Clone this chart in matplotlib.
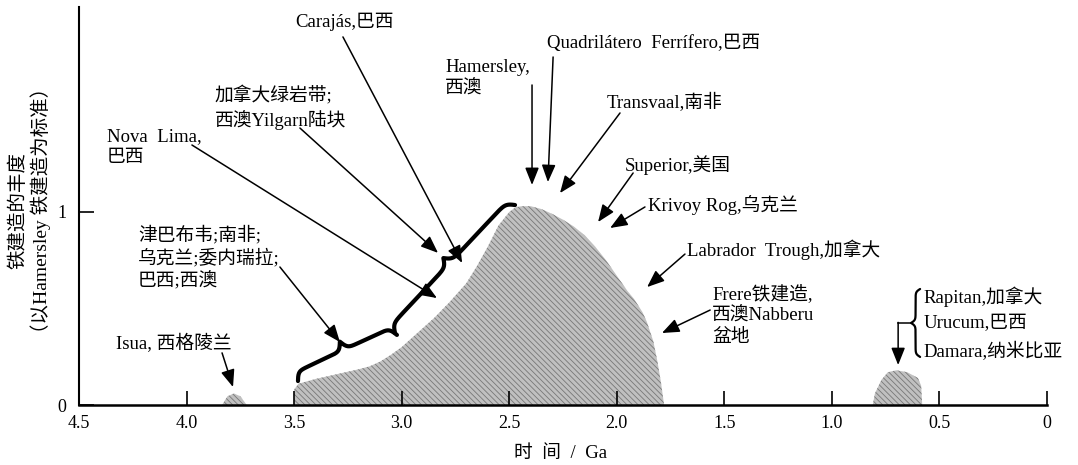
import numpy as np
import matplotlib
matplotlib.use('Agg')
import matplotlib.pyplot as plt

plt.rcParams['font.family'] = ['Liberation Serif', 'Noto Sans CJK SC']

# abundance of iron formations (relative to Hamersley = 1)
main_age = [3.50, 3.50, 3.48, 3.40, 3.30, 3.20, 3.15, 3.10, 3.05, 3.00, 2.92, 2.85, 2.78, 2.70,
            2.65, 2.60, 2.55, 2.50, 2.47, 2.44, 2.40, 2.35, 2.30, 2.25, 2.20, 2.15, 2.10, 2.05,
            2.00, 1.95, 1.92, 1.88, 1.86, 1.83, 1.81, 1.795, 1.785, 1.78]
main_abund = [0.0, 0.08, 0.11, 0.135, 0.16, 0.185, 0.20, 0.225, 0.26, 0.30, 0.38, 0.45, 0.53,
              0.63, 0.72, 0.82, 0.93, 1.00, 1.025, 1.03, 1.03, 1.015, 0.99, 0.96, 0.925, 0.88,
              0.82, 0.75, 0.67, 0.59, 0.55, 0.48, 0.43, 0.33, 0.22, 0.12, 0.04, 0.0]
isua_age = [3.835, 3.81, 3.78, 3.75, 3.72]
isua_abund = [0.0, 0.045, 0.06, 0.045, 0.0]
neo_age = [0.81, 0.80, 0.77, 0.74, 0.70, 0.65, 0.60, 0.585, 0.58]
neo_abund = [0.0, 0.06, 0.13, 0.17, 0.18, 0.17, 0.14, 0.10, 0.0]

xticks = [4.5, 4.0, 3.5, 3.0, 2.5, 2.0, 1.5, 1.0, 0.5, 0]
xticklabels = ['4.5', '4.0', '3.5', '3.0', '2.5', '2.0', '1.5', '1.0', '0.5', '0']

# label text, text anchor (age, abundance), arrow start, arrow tip
labels = [
    ('Isua, 西格陵兰', (4.33, 0.32), (3.835, 0.27), (3.784, 0.093)),
    ('津巴布韦;南非;\n乌克兰;委内瑞拉;\n巴西;西澳', (4.226, 0.762), (3.566, 0.715), (3.287, 0.326)),
    ('Nova  Lima,\n巴西', (4.37, 1.337), (3.975, 1.347), (2.836, 0.554)),
    ('加拿大绿岩带;\n西澳Yilgarn陆块', (3.868, 1.539), (3.473, 1.435), (2.831, 0.788)),
    ('Carajás,巴西', (3.496, 1.984), (3.273, 1.907), (2.719, 0.736)),
    ('Hamersley,\n西澳', (2.798, 1.694), (2.394, 1.658), (2.394, 1.140)),
    ('Quadrilátero  Ferrífero,巴西', (2.324, 1.876), (2.296, 1.803), (2.320, 1.155)),
    ('Transvaal,南非', (2.045, 1.565), (1.985, 1.513), (2.264, 1.098)),
    ('Superior,美国', (1.962, 1.244), (1.924, 1.202), (2.087, 0.948)),
    ('Krivoy Rog,乌克兰', (1.855, 1.036), (1.869, 1.026), (2.031, 0.917)),
    ('Labrador  Trough,加拿大', (1.673, 0.803), (1.683, 0.782), (1.859, 0.611)),
    ('Frere铁建造,\n西澳Nabberu\n盆地', (1.557, 0.466), (1.566, 0.492), (1.790, 0.373)),
]
neo_names = ['Rapitan,加拿大', 'Urucum,巴西', 'Damara,纳米比亚']
neo_name_y = [0.560, 0.425, 0.275]

fig = plt.figure(figsize=(10.78, 4.65), dpi=100)
ax = fig.add_axes([79 / 1078, 60 / 465, 968 / 1078, 398 / 465])
ax.set_xlim(4.5, 0)
ax.set_ylim(0, 2.062)

plt.rcParams['hatch.linewidth'] = 0.6
fill_kw = dict(facecolor='#c0c0c0', edgecolor='#777777', hatch='\\\\\\\\\\\\', linewidth=0)
for a, b in [(main_age, main_abund), (isua_age, isua_abund), (neo_age, neo_abund)]:
    ax.fill_between(a, 0, b, **fill_kw)

for s in ['top', 'right']:
    ax.spines[s].set_visible(False)
ax.spines['left'].set_linewidth(1.5)
ax.spines['bottom'].set_linewidth(1.8)
ax.set_xticks(xticks)
ax.set_xticklabels(xticklabels)
ax.set_yticks([0, 1])
ax.set_yticklabels(['0', '1'])
ax.tick_params(axis='x', direction='in', length=10, width=1.2, labelsize=13, pad=7)
ax.tick_params(axis='y', direction='in', length=11, width=1.2, labelsize=13, pad=9)

arrow_kw = dict(arrowstyle='-|>,head_length=0.75,head_width=0.3', color='black',
                lw=1.1, mutation_scale=14, shrinkA=0, shrinkB=0)
for txt, pos, start, tip in labels:
    ax.text(pos[0], pos[1], txt, fontsize=13.5, ha='left', va='center', linespacing=1.3)
    ax.annotate('', xy=tip, xytext=start, arrowprops=arrow_kw)


def brace(p0, p1, amp, beta, lw):
    # curly brace drawn in pixel space between two data points
    d0 = ax.transData.transform(p0)
    d1 = ax.transData.transform(p1)
    L = np.hypot(*(d1 - d0))
    u = (d1 - d0) / L
    n = np.array([-u[1], u[0]])
    s = np.linspace(0, L / 2, 200)
    yh = 1 / (1 + np.exp(-beta * s)) + 1 / (1 + np.exp(-beta * (s - L / 2))) - 0.5
    s_all = np.concatenate([s, L - s[-2::-1]])
    y_all = np.concatenate([yh, yh[-2::-1]])
    pts = d0 + np.outer(s_all, u) + np.outer(amp * y_all, n)
    dat = ax.transData.inverted().transform(pts)
    ax.plot(dat[:, 0], dat[:, 1], color='black', lw=lw, solid_capstyle='round')


brace((3.482, 0.124), (3.022, 0.363), 18, 0.45, 3.0)
brace((3.031, 0.373), (2.473, 1.036), 16, 0.35, 3.0)
brace((0.590, 0.249), (0.590, 0.601), 9, 0.7, 1.6)

ax.plot([0.633, 0.692], [0.425, 0.425], color='black', lw=1.1)
ax.annotate('', xy=(0.692, 0.207), xytext=(0.692, 0.428), arrowprops=arrow_kw)
for name, y in zip(neo_names, neo_name_y):
    ax.text(0.576, y, name, fontsize=13.5, ha='left', va='center')

fig.text(30 / 1078, 1 - 210 / 465, '铁建造的丰度\n（以Hamersley 铁建造为标准）', rotation=90,
         ha='center', va='center', fontsize=14, linespacing=1.15, multialignment='center')
fig.text(561 / 1078, 1 - 453 / 465, '时  间  /  Ga', ha='center', va='center', fontsize=13.5)

fig.savefig('out.png', dpi=100)
plt.close()
